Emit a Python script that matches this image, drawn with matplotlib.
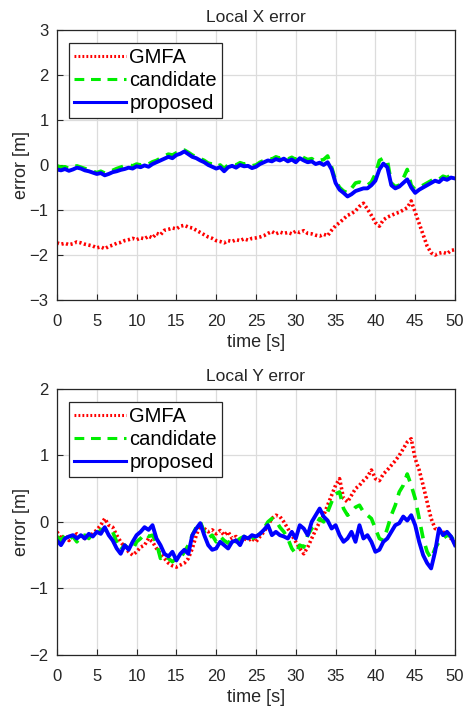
import numpy as np
import matplotlib
matplotlib.use('Agg')
import matplotlib.pyplot as plt

plt.rcParams['font.family'] = ['Liberation Sans', 'DejaVu Sans']

# time base, 0.5 s sampling
time_s = np.arange(0, 50.5, 0.5)

# Local X error [m]
gmfa_x = [-1.73, -1.76, -1.74, -1.77, -1.75, -1.71, -1.73, -1.76, -1.78, -1.80,
          -1.84, -1.82, -1.86, -1.81, -1.78, -1.74, -1.72, -1.68, -1.66, -1.63,
          -1.66, -1.62, -1.64, -1.58, -1.62, -1.52, -1.55, -1.45, -1.43, -1.40,
          -1.42, -1.36, -1.34, -1.38, -1.40, -1.45, -1.50, -1.55, -1.60, -1.63,
          -1.68, -1.70, -1.73, -1.68, -1.70, -1.66, -1.68, -1.64, -1.67, -1.63,
          -1.62, -1.60, -1.57, -1.52, -1.48, -1.53, -1.49, -1.52, -1.50, -1.53,
          -1.47, -1.50, -1.46, -1.52, -1.53, -1.56, -1.58, -1.54, -1.57, -1.45,
          -1.35, -1.28, -1.20, -1.12, -1.08, -1.02, -0.92, -0.85, -0.98, -1.12,
          -1.28, -1.36, -1.22, -1.16, -1.12, -1.08, -1.05, -1.00, -0.95, -0.80,
          -1.05, -1.30, -1.55, -1.80, -1.95, -2.00, -1.96, -1.94, -1.97, -1.90,
          -1.88]
candidate_x = [-0.02, -0.05, -0.04, -0.08, -0.05, -0.02, -0.05, -0.08, -0.10, -0.14,
               -0.17, -0.14, -0.18, -0.15, -0.12, -0.08, -0.05, -0.02, 0.00, -0.02,
               0.02, 0.00, 0.05, 0.02, 0.07, 0.10, 0.15, 0.20, 0.24, 0.22,
               0.27, 0.30, 0.33, 0.28, 0.22, 0.18, 0.14, 0.10, 0.04, 0.02,
               -0.04, 0.00, -0.08, 0.00, 0.03, 0.00, 0.05, 0.02, 0.04, -0.02,
               0.00, 0.06, 0.10, 0.15, 0.13, 0.18, 0.15, 0.20, 0.13, 0.17,
               0.12, 0.22, 0.16, 0.12, 0.14, 0.08, 0.10, 0.12, 0.20, -0.05,
               -0.35, -0.50, -0.58, -0.62, -0.52, -0.40, -0.38, -0.42, -0.45, -0.38,
               -0.20, 0.10, 0.15, 0.10, -0.40, -0.48, -0.45, -0.30, -0.10, -0.45,
               -0.55, -0.50, -0.45, -0.40, -0.35, -0.30, -0.32, -0.25, -0.28, -0.22,
               -0.18]
proposed_x = [-0.10, -0.12, -0.09, -0.13, -0.10, -0.06, -0.08, -0.12, -0.14, -0.17,
              -0.20, -0.18, -0.23, -0.20, -0.16, -0.14, -0.11, -0.09, -0.06, -0.08,
              -0.03, -0.05, -0.01, -0.04, 0.02, 0.06, 0.10, 0.14, 0.18, 0.15,
              0.22, 0.25, 0.30, 0.24, 0.18, 0.15, 0.10, 0.06, 0.00, -0.04,
              -0.08, -0.05, -0.14, -0.05, -0.02, -0.06, 0.00, -0.03, -0.02, -0.07,
              -0.04, 0.02, 0.06, 0.10, 0.08, 0.13, 0.10, 0.14, 0.08, 0.12,
              0.06, 0.15, 0.10, 0.06, 0.08, 0.02, 0.05, 0.00, 0.06, -0.10,
              -0.40, -0.55, -0.62, -0.70, -0.65, -0.58, -0.55, -0.52, -0.52, -0.45,
              -0.35, -0.10, 0.03, -0.05, -0.45, -0.52, -0.48, -0.40, -0.32, -0.50,
              -0.62, -0.55, -0.50, -0.45, -0.40, -0.35, -0.38, -0.30, -0.33, -0.28,
              -0.30]

# Local Y error [m]
gmfa_y = [-0.15, -0.25, -0.20, -0.28, -0.22, -0.18, -0.22, -0.25, -0.20, -0.18,
          -0.12, -0.05, 0.05, -0.05, -0.08, -0.20, -0.30, -0.38, -0.45, -0.50,
          -0.45, -0.38, -0.35, -0.25, -0.30, -0.40, -0.48, -0.55, -0.62, -0.66,
          -0.68, -0.65, -0.62, -0.55, -0.40, -0.20, -0.05, -0.10, -0.15, -0.12,
          -0.18, -0.13, -0.20, -0.15, -0.25, -0.22, -0.30, -0.25, -0.28, -0.25,
          -0.30, -0.22, -0.15, -0.05, 0.05, 0.10, 0.08, 0.00, -0.10, -0.20,
          -0.30, -0.40, -0.48, -0.38, -0.25, -0.12, 0.00, 0.10, 0.25, 0.40,
          0.55, 0.65, 0.35, 0.30, 0.40, 0.50, 0.55, 0.62, 0.68, 0.78,
          0.65, 0.62, 0.72, 0.78, 0.85, 0.92, 1.00, 1.10, 1.20, 1.25,
          0.95, 0.78, 0.55, 0.30, 0.05, -0.10, -0.12, -0.15, -0.20, -0.25,
          -0.32]
candidate_y = [-0.22, -0.28, -0.20, -0.26, -0.22, -0.30, -0.22, -0.20, -0.25, -0.18,
               -0.20, -0.12, -0.10, -0.18, -0.15, -0.30, -0.42, -0.35, -0.40, -0.42,
               -0.30, -0.25, -0.18, -0.22, -0.20, -0.32, -0.55, -0.50, -0.55, -0.60,
               -0.55, -0.55, -0.45, -0.35, -0.20, -0.08, 0.00, -0.15, -0.25, -0.20,
               -0.30, -0.22, -0.28, -0.32, -0.25, -0.30, -0.25, -0.22, -0.28, -0.25,
               -0.22, -0.18, -0.10, 0.00, 0.05, 0.02, -0.08, -0.15, -0.25, -0.40,
               -0.48, -0.35, -0.38, -0.20, -0.10, -0.05, 0.05, 0.00, 0.15, 0.30,
               0.42, 0.45, 0.20, 0.10, 0.15, 0.22, 0.25, 0.15, 0.10, 0.05,
               -0.10, -0.25, -0.28, -0.10, 0.10, 0.25, 0.45, 0.55, 0.72, 0.55,
               0.35, 0.05, -0.25, -0.45, -0.55, -0.40, -0.30, -0.25, -0.20, -0.22,
               -0.30]
proposed_y = [-0.28, -0.35, -0.25, -0.22, -0.20, -0.25, -0.20, -0.25, -0.18, -0.22,
              -0.15, -0.18, -0.08, -0.20, -0.28, -0.40, -0.48, -0.35, -0.42, -0.30,
              -0.20, -0.15, -0.08, -0.12, -0.05, -0.25, -0.35, -0.48, -0.52, -0.45,
              -0.58, -0.48, -0.42, -0.48, -0.20, -0.10, -0.02, -0.20, -0.35, -0.42,
              -0.40, -0.30, -0.35, -0.40, -0.30, -0.28, -0.35, -0.22, -0.25, -0.20,
              -0.22, -0.18, -0.12, -0.05, -0.20, -0.15, -0.20, -0.22, -0.25, -0.15,
              -0.25, -0.05, -0.10, -0.20, 0.00, 0.10, 0.20, 0.08, 0.02, -0.10,
              -0.05, -0.20, -0.30, -0.25, -0.15, -0.30, -0.05, -0.25, -0.20, -0.30,
              -0.45, -0.42, -0.30, -0.25, -0.15, -0.05, -0.02, 0.08, 0.02, 0.10,
              -0.05, -0.30, -0.50, -0.62, -0.70, -0.45, -0.10, -0.20, -0.15, -0.22,
              -0.35]

series_names = ['GMFA', 'candidate', 'proposed']
x_ticks = [0, 5, 10, 15, 20, 25, 30, 35, 40, 45, 50]

fig = plt.figure(figsize=(4.71, 7.11), dpi=100)
ax1 = fig.add_axes([0.121, 0.578, 0.845, 0.380])
ax2 = fig.add_axes([0.121, 0.079, 0.845, 0.374])

panels = [
    (ax1, 'Local X error', [gmfa_x, candidate_x, proposed_x], (-3, 3), [-3, -2, -1, 0, 1, 2, 3]),
    (ax2, 'Local Y error', [gmfa_y, candidate_y, proposed_y], (-2, 2), [-2, -1, 0, 1, 2]),
]

txt = '#262626'
for ax, title, data, ylim, yticks in panels:
    ax.plot(time_s, data[0], color='#ff0000', linestyle=(0, (0.6, 0.7)), linewidth=2.6,
            label=series_names[0])
    ax.plot(time_s, data[1], color='#00ee00', linestyle=(0, (3.2, 2.2)), linewidth=2.6,
            label=series_names[1])
    ax.plot(time_s, data[2], color='#0000ff', linestyle='-', linewidth=2.8,
            label=series_names[2])
    ax.set_xlim(0, 50)
    ax.set_ylim(*ylim)
    ax.set_xticks(x_ticks)
    ax.set_yticks(yticks)
    ax.grid(True, color='#dcdcdc', linewidth=0.9)
    ax.set_axisbelow(True)
    ax.tick_params(direction='in', length=4, labelsize=12, colors=txt)
    ax.tick_params(axis='x', pad=10)
    ax.tick_params(axis='y', pad=6)
    for sp in ax.spines.values():
        sp.set_color(txt)
        sp.set_linewidth(0.9)
    ax.set_title(title, fontsize=12.5, color=txt, pad=6)
    ax.set_xlabel('time [s]', fontsize=13, color=txt, labelpad=4)
    ax.set_ylabel('error [m]', fontsize=13, color=txt, labelpad=0)
    leg = ax.legend(loc='upper left', bbox_to_anchor=(0.03, 0.952), borderaxespad=0,
                    fontsize=14.5, fancybox=False, edgecolor=txt, framealpha=1,
                    handlelength=2.6, handletextpad=0.15, borderpad=0.25, labelspacing=0.2)
    leg.get_frame().set_linewidth(0.9)
    for ln in leg.get_lines():
        ln.set_linewidth(2.2)

fig.savefig('out.png', dpi=100)
